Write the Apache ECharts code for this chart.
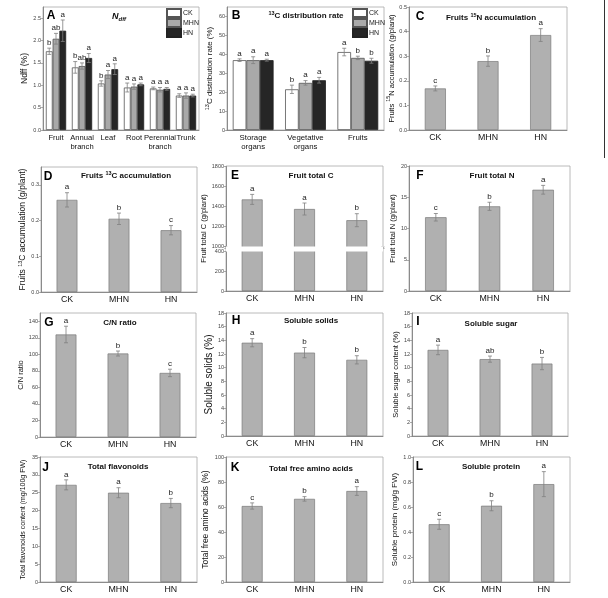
<!DOCTYPE html>
<html><head><meta charset="utf-8">
<script src="https://cdn.jsdelivr.net/npm/echarts@6.0.0/dist/echarts.min.js"></script>
<style>html,body{margin:0;padding:0;background:#fff}#c{width:608px;height:598px}</style>
</head><body><div id="c"></div>
<script>
// ---------- DATA ----------
const groups = ['CK', 'MHN', 'HN'];
// A: Ndff (%)
const aCats = ['Fruit', 'Annual\nbranch', 'Leaf', 'Root', 'Perennial\nbranch', 'Trunk'];
const aCK = [1.76, 1.40, 1.04, 0.95, 0.93, 0.77];
const aMHN = [2.04, 1.43, 1.24, 0.97, 0.90, 0.77];
const aHN = [2.22, 1.61, 1.36, 1.02, 0.92, 0.77];
const aCKErr = [0.07, 0.13, 0.06, 0.10, 0.03, 0.04];
const aMHNErr = [0.12, 0.07, 0.09, 0.06, 0.05, 0.06];
const aHNErr = [0.24, 0.10, 0.12, 0.03, 0.03, 0.03];
const aCKSig = ['b', 'b', 'b', 'a', 'a', 'a'];
const aMHNSig = ['ab', 'ab', 'a', 'a', 'a', 'a'];
const aHNSig = ['a', 'a', 'a', 'a', 'a', 'a'];
// B: 13C distribution rate (%)
const bCats = ['Storage\norgans', 'Vegetative\norgans', 'Fruits'];
const bCK = [36.9, 21.5, 41.2];
const bMHN = [36.9, 24.9, 38.1];
const bHN = [36.9, 26.3, 36.6];
const bCKErr = [0.7, 2.2, 2.0];
const bMHNErr = [1.8, 1.2, 0.9];
const bHNErr = [0.5, 1.5, 1.3];
const bCKSig = ['a', 'b', 'a'];
const bMHNSig = ['a', 'a', 'b'];
const bHNSig = ['a', 'a', 'b'];
// C..L: one bar per treatment
const cVal = [0.169, 0.280, 0.386], cErr = [0.010, 0.021, 0.026], cSig = ['c', 'b', 'a'];
const dVal = [0.258, 0.205, 0.173], dErr = [0.020, 0.016, 0.013], dSig = ['a', 'b', 'c'];
const eVal = [1466, 1370, 1258], eErr = [50, 60, 65], eSig = ['a', 'a', 'b'];
const eTicks = [0, 200, 400, 1000, 1200, 1400, 1600, 1800];
const fVal = [11.8, 13.55, 16.2], fErr = [0.6, 0.65, 0.7], fSig = ['c', 'b', 'a'];
const gVal = [124, 101, 77.5], gErr = [10, 3, 4.5], gSig = ['a', 'b', 'c'];
const hVal = [13.65, 12.2, 11.15], hErr = [0.6, 0.75, 0.6], hSig = ['a', 'b', 'b'];
const iVal = [12.6, 11.25, 10.6], iErr = [0.7, 0.45, 0.9], iSig = ['a', 'ab', 'b'];
const jVal = [27.2, 25.0, 22.1], jErr = [1.4, 1.4, 1.3], jSig = ['a', 'a', 'b'];
const kVal = [60.8, 66.5, 72.8], kErr = [2.5, 1.8, 3.5], kSig = ['c', 'b', 'a'];
const lVal = [0.462, 0.610, 0.783], lErr = [0.04, 0.04, 0.10], lSig = ['c', 'b', 'a'];

// ---------- STYLE / LAYOUT ----------
const FONT = 'Liberation Sans, Arial, Helvetica, sans-serif';
const chart = echarts.init(document.getElementById('c'), null, {renderer: 'canvas'});
const supRich = {s: {fontSize: 5.5, padding: [0, 0, 5, 0], fontFamily: FONT}};

const gridBoxes = [
  {left: 43, top: 7, width: 156, height: 123},
  {left: 227, top: 7, width: 157, height: 123},
  {left: 409, top: 7, width: 158, height: 123},
  {left: 41, top: 167, width: 156, height: 125},
  {left: 226, top: 166, width: 157, height: 125},
  {left: 409, top: 166, width: 161, height: 125},
  {left: 40, top: 313, width: 156, height: 124},
  {left: 226, top: 313, width: 157, height: 123},
  {left: 412, top: 313, width: 156, height: 123},
  {left: 40, top: 457, width: 157, height: 125},
  {left: 226, top: 457, width: 157, height: 125},
  {left: 413, top: 457, width: 157, height: 125}
];

const panels = [
  {cats: aCats, min: 0, max: 2.75, interval: 0.5, dec: 1, name: 'Ndff (%)', nameSize: 8.5, nameGap: 11, catSize: 7.6},
  {cats: bCats, min: 0, max: 65, interval: 10, dec: 0, name: '{s|13}C distribution rate (%)', nameSize: 8, nameGap: 12, catSize: 7.8},
  {cats: groups, val: cVal, err: cErr, sig: cSig, min: 0, max: 0.5, interval: 0.1, dec: 1, name: 'Fruits {s|15}N accumulation (g/plant)', nameSize: 7.5, nameGap: 11},
  {cats: groups, val: dVal, err: dErr, sig: dSig, min: 0, max: 0.35, interval: 0.1, dec: 1, name: 'Fruits {s|13}C accumulation (g/plant)', nameSize: 8.5, nameGap: 11.5},
  {cats: groups, val: eVal, err: eErr, sig: eSig, min: 0, max: 1800, interval: 200, dec: 0, name: 'Fruit total C (g/plant)', nameSize: 7.5, nameGap: 15, brk: true},
  {cats: groups, val: fVal, err: fErr, sig: fSig, min: 0, max: 20, interval: 5, dec: 0, name: 'Fruit total N (g/plant)', nameSize: 7.5, nameGap: 12},
  {cats: groups, val: gVal, err: gErr, sig: gSig, min: 0, max: 150, interval: 20, dec: 0, name: 'C/N ratio', nameSize: 7.5, nameGap: 11},
  {cats: groups, val: hVal, err: hErr, sig: hSig, min: 0, max: 18, interval: 2, dec: 0, name: 'Soluble solids (%)', nameSize: 10, nameGap: 11},
  {cats: groups, val: iVal, err: iErr, sig: iSig, min: 0, max: 18, interval: 2, dec: 0, name: 'Soluble sugar content (%)', nameSize: 7.5, nameGap: 12},
  {cats: groups, val: jVal, err: jErr, sig: jSig, min: 0, max: 35, interval: 5, dec: 0, name: 'Total flavonoids content (mg/100g FW)', nameSize: 7, nameGap: 13},
  {cats: groups, val: kVal, err: kErr, sig: kSig, min: 0, max: 100, interval: 20, dec: 0, name: 'Total free amino acids (%)', nameSize: 8.5, nameGap: 16},
  {cats: groups, val: lVal, err: lErr, sig: lSig, min: 0, max: 1.0, interval: 0.2, dec: 1, name: 'Soluble protein (mg/g FW)', nameSize: 8, nameGap: 14}
];

const grid = [], xAxis = [], yAxis = [], series = [];
panels.forEach((p, k) => {
  grid.push(Object.assign({show: true, borderColor: '#a8a8a8', borderWidth: 0.8, backgroundColor: 'transparent'}, gridBoxes[k]));
  xAxis.push({
    gridIndex: k, type: 'category', data: p.cats,
    axisLine: {lineStyle: {color: '#777', width: 0.8}},
    axisTick: {show: false},
    axisLabel: {fontSize: p.catSize || 8.8, color: '#111', margin: 3, interval: 0, fontFamily: FONT, lineHeight: p.catSize ? 9 : 10}
  });
  const exact = Math.abs(p.max / p.interval - Math.round(p.max / p.interval)) < 1e-9;
  const ya = {
    gridIndex: k, type: 'value', min: p.min, max: p.max, interval: p.interval,
    axisLine: {show: true, lineStyle: {color: '#777', width: 0.8}},
    axisTick: {show: true, length: 2, lineStyle: {color: '#777', width: 0.6}},
    splitLine: {show: false},
    axisLabel: {fontSize: 5.5, color: '#444', margin: 2, fontFamily: FONT, showMaxLabel: exact, hideOverlap: false,
      formatter: v => (p.brk && !eTicks.includes(v)) ? '' : Number(v).toFixed(p.dec)},
    name: p.name, nameLocation: 'middle', nameGap: p.nameGap,
    nameTextStyle: {fontSize: p.nameSize, color: '#111', fontFamily: FONT, rich: supRich}
  };
  if (p.brk) {
    ya.breaks = [{start: 400, end: 1000, gap: '4%'}];
    ya.breakArea = {show: true, itemStyle: {color: '#fff', borderColor: '#fff', borderWidth: 0, opacity: 1},
      zigzagAmplitude: 0, zigzagMinSpan: 1, zigzagMaxSpan: 2, zigzagZ: 100, expandOnClick: false};
    ya.breakLabelLayout = {moveOverlap: false};
  }
  yAxis.push(ya);
});

function errBar(k, vals, errs, sigs, slot, nSlots) {
  return {
    type: 'custom', xAxisIndex: k, yAxisIndex: k, z: 5, silent: true,
    data: vals.map((v, i) => [i, v, errs[i]]),
    renderItem: function (params, api) {
      const i = api.value(0), v = api.value(1), e = api.value(2);
      const band = api.size([1, 0])[0];
      let off = 0;
      if (nSlots > 1) { const bw = band * 0.78 / nSlots; off = (slot - (nSlots - 1) / 2) * bw; }
      const t = api.coord([i, v + e]), b = api.coord([i, v - e]);
      const x = t[0] + off, cap = 2;
      const st = {stroke: '#808080', lineWidth: 0.8};
      return {type: 'group', children: [
        {type: 'line', shape: {x1: x, y1: t[1], x2: x, y2: b[1]}, style: st},
        {type: 'line', shape: {x1: x - cap, y1: t[1], x2: x + cap, y2: t[1]}, style: st},
        {type: 'line', shape: {x1: x - cap, y1: b[1], x2: x + cap, y2: b[1]}, style: st},
        {type: 'text', x: x, y: t[1] - 1.5, style: {text: sigs[params.dataIndex], align: 'center', verticalAlign: 'bottom', fontSize: 8, fontFamily: FONT, fill: '#222'}}
      ]};
    }
  };
}

const groupStyles = [
  {color: '#ffffff', borderColor: '#555', borderWidth: 0.8},
  {color: '#a9a9a9', borderColor: '#555', borderWidth: 0.8},
  {color: '#262626', borderColor: '#222', borderWidth: 0.8}
];
[[aCK, aMHN, aHN, aCKErr, aMHNErr, aHNErr, aCKSig, aMHNSig, aHNSig], [bCK, bMHN, bHN, bCKErr, bMHNErr, bHNErr, bCKSig, bMHNSig, bHNSig]].forEach((d, k) => {
  for (let g = 0; g < 3; g++) {
    series.push({type: 'bar', name: groups[g], xAxisIndex: k, yAxisIndex: k, data: d[g], barGap: '0%', barCategoryGap: '22%', itemStyle: groupStyles[g], silent: true});
  }
  for (let g = 0; g < 3; g++) series.push(errBar(k, d[g], d[g + 3], d[g + 6], g, 3));
});
panels.forEach((p, k) => {
  if (!p.val) return;
  series.push({type: 'bar', xAxisIndex: k, yAxisIndex: k, data: p.val, barWidth: '40%', silent: true,
    itemStyle: {color: '#b0b0b0', borderColor: '#7a7a7a', borderWidth: 0.7}});
  series.push(errBar(k, p.val, p.err, p.sig, 0, 1));
});

const titleRich = {b: {fontSize: 8, fontWeight: 'bold', fontFamily: FONT, fill: '#111'}, s: {fontSize: 5.5, fontWeight: 'bold', fontFamily: FONT, padding: [0, 0, 5, 0]}, d: {fontSize: 6, fontWeight: 'bold', fontStyle: 'italic', fontFamily: FONT, padding: [5, 0, 0, 0]}, n: {fontSize: 9, fontWeight: 'bold', fontStyle: 'italic', fontFamily: FONT}};
const titles = [
  [119, 17, '{n|N}{d|dff}'], [306, 16, '{s|13}{b|C distribution rate}'], [491, 18, '{b|Fruits }{s|15}{b|N accumulation}'],
  [126, 176, '{b|Fruits }{s|13}{b|C accumulation}'], [311, 176, '{b|Fruit total C}'], [492, 176, '{b|Fruit total N}'],
  [120, 323, '{b|C/N ratio}'], [311, 321, '{b|Soluble solids}'], [491, 323.5, '{b|Soluble sugar}'],
  [118, 467, '{b|Total flavonoids}'], [311, 469, '{b|Total free amino acids}'], [491, 467, '{b|Soluble protein}']
];
const letters = [[51, 16, 'A'], [236, 15.5, 'B'], [420, 17, 'C'], [48, 176.5, 'D'], [235, 176, 'E'], [420, 176, 'F'],
  [49, 322.5, 'G'], [236, 321, 'H'], [418, 322, 'I'], [45.5, 468, 'J'], [235, 467.5, 'K'], [419.5, 467, 'L']];
const graphic = [];
titles.forEach(t => graphic.push({type: 'text', x: t[0], y: t[1], z: 50, style: {text: t[2], rich: titleRich, align: 'center', verticalAlign: 'middle', fontSize: 8, fontWeight: 'bold', fontFamily: FONT, fill: '#111'}}));
letters.forEach(t => graphic.push({type: 'text', x: t[0], y: t[1], z: 50, style: {text: t[2], align: 'center', verticalAlign: 'middle', fontSize: 12, fontWeight: 'bold', fontFamily: FONT, fill: '#000'}}));
// break marks on the left and right frame of panel E
[[226, 248], [383, 248]].forEach(p => graphic.push({type: 'text', x: p[0], y: p[1], z: 60, style: {text: '≈', align: 'center', verticalAlign: 'middle', fontSize: 7, fontFamily: FONT, fill: '#777'}}));
// thin frame line at the right edge of the top row (as in the source image)
graphic.push({type: 'line', z: 50, shape: {x1: 604.5, y1: 0, x2: 604.5, y2: 158}, style: {stroke: '#333', lineWidth: 1}});

const legendBase = {orient: 'vertical', itemWidth: 14, itemHeight: 8, itemGap: 0, padding: 0, selectedMode: false, icon: 'rect',
  textStyle: {fontSize: 7, color: '#222', fontFamily: FONT, padding: [0, 0, 0, -3]}, data: groups};

chart.setOption({
  animation: false,
  textStyle: {fontFamily: FONT},
  grid, xAxis, yAxis, series, graphic,
  legend: [Object.assign({left: 166, top: 8}, legendBase), Object.assign({left: 352, top: 8}, legendBase)]
});
</script></body></html>
